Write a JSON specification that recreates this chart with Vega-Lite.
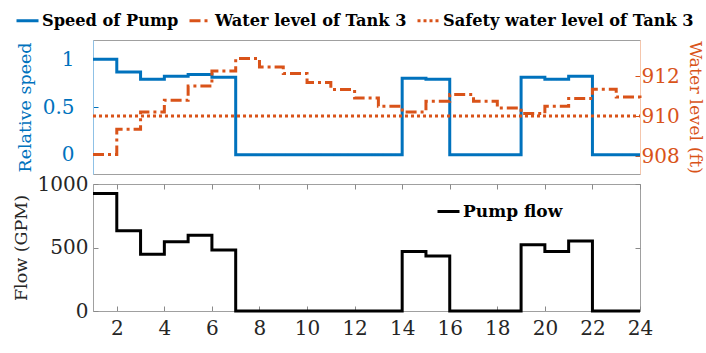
{
  "$schema": "https://vega.github.io/schema/vega-lite/v6.json",
  "padding": {"left": 11, "top": 7, "right": 1, "bottom": 3},
  "bounds": "flush",
  "spacing": 10,
  "config": {
    "font": "DejaVu Serif",
    "view": {"stroke": "#a0a0a0", "strokeWidth": 1},
    "axis": {"grid": false, "labelFont": "DejaVu Serif", "titleFont": "DejaVu Serif", "labelFontSize": 20, "titleFontSize": 17.5, "titleFontWeight": "normal", "labelFlush": false, "labelOverlap": false},
    "legend": {"labelFont": "DejaVu Serif", "labelFontSize": 16.2, "labelFontWeight": "bold", "labelColor": "#000000", "symbolType": "stroke", "symbolStrokeWidth": 3, "symbolSize": 484, "labelOffset": 2, "columnPadding": 4, "padding": 0, "title": null, "direction": "horizontal", "orient": "none", "labelLimit": 400}
  },
  "datasets": {
    "speed": [
      {"hour": 1, "value": 1.0, "series": "Speed of Pump"},
      {"hour": 2, "value": 0.865, "series": "Speed of Pump"},
      {"hour": 3, "value": 0.79, "series": "Speed of Pump"},
      {"hour": 4, "value": 0.82, "series": "Speed of Pump"},
      {"hour": 5, "value": 0.84, "series": "Speed of Pump"},
      {"hour": 6, "value": 0.81, "series": "Speed of Pump"},
      {"hour": 7, "value": 0, "series": "Speed of Pump"},
      {"hour": 8, "value": 0, "series": "Speed of Pump"},
      {"hour": 9, "value": 0, "series": "Speed of Pump"},
      {"hour": 10, "value": 0, "series": "Speed of Pump"},
      {"hour": 11, "value": 0, "series": "Speed of Pump"},
      {"hour": 12, "value": 0, "series": "Speed of Pump"},
      {"hour": 13, "value": 0, "series": "Speed of Pump"},
      {"hour": 14, "value": 0.80, "series": "Speed of Pump"},
      {"hour": 15, "value": 0.79, "series": "Speed of Pump"},
      {"hour": 16, "value": 0, "series": "Speed of Pump"},
      {"hour": 17, "value": 0, "series": "Speed of Pump"},
      {"hour": 18, "value": 0, "series": "Speed of Pump"},
      {"hour": 19, "value": 0.81, "series": "Speed of Pump"},
      {"hour": 20, "value": 0.79, "series": "Speed of Pump"},
      {"hour": 21, "value": 0.82, "series": "Speed of Pump"},
      {"hour": 22, "value": 0, "series": "Speed of Pump"},
      {"hour": 23, "value": 0, "series": "Speed of Pump"},
      {"hour": 24, "value": 0, "series": "Speed of Pump"}
    ],
    "level": [
      {"hour": 1, "value": 908.07, "series": "Water level of Tank 3"},
      {"hour": 2, "value": 909.34, "series": "Water level of Tank 3"},
      {"hour": 3, "value": 910.2, "series": "Water level of Tank 3"},
      {"hour": 4, "value": 910.79, "series": "Water level of Tank 3"},
      {"hour": 5, "value": 911.5, "series": "Water level of Tank 3"},
      {"hour": 6, "value": 912.25, "series": "Water level of Tank 3"},
      {"hour": 7, "value": 912.87, "series": "Water level of Tank 3"},
      {"hour": 8, "value": 912.45, "series": "Water level of Tank 3"},
      {"hour": 9, "value": 912.12, "series": "Water level of Tank 3"},
      {"hour": 10, "value": 911.67, "series": "Water level of Tank 3"},
      {"hour": 11, "value": 911.32, "series": "Water level of Tank 3"},
      {"hour": 12, "value": 910.9, "series": "Water level of Tank 3"},
      {"hour": 13, "value": 910.49, "series": "Water level of Tank 3"},
      {"hour": 14, "value": 910.2, "series": "Water level of Tank 3"},
      {"hour": 15, "value": 910.74, "series": "Water level of Tank 3"},
      {"hour": 16, "value": 911.07, "series": "Water level of Tank 3"},
      {"hour": 17, "value": 910.74, "series": "Water level of Tank 3"},
      {"hour": 18, "value": 910.4, "series": "Water level of Tank 3"},
      {"hour": 19, "value": 910.12, "series": "Water level of Tank 3"},
      {"hour": 20, "value": 910.49, "series": "Water level of Tank 3"},
      {"hour": 21, "value": 910.87, "series": "Water level of Tank 3"},
      {"hour": 22, "value": 911.34, "series": "Water level of Tank 3"},
      {"hour": 23, "value": 910.95, "series": "Water level of Tank 3"},
      {"hour": 24, "value": 910.7, "series": "Water level of Tank 3"},
      {"hour": 1, "value": 910, "series": "Safety water level of Tank 3"},
      {"hour": 24, "value": 910, "series": "Safety water level of Tank 3"}
    ],
    "flow": [
      {"hour": 1, "value": 926, "series": "Pump flow"},
      {"hour": 2, "value": 631, "series": "Pump flow"},
      {"hour": 3, "value": 447, "series": "Pump flow"},
      {"hour": 4, "value": 545, "series": "Pump flow"},
      {"hour": 5, "value": 597, "series": "Pump flow"},
      {"hour": 6, "value": 481, "series": "Pump flow"},
      {"hour": 7, "value": 0, "series": "Pump flow"},
      {"hour": 8, "value": 0, "series": "Pump flow"},
      {"hour": 9, "value": 0, "series": "Pump flow"},
      {"hour": 10, "value": 0, "series": "Pump flow"},
      {"hour": 11, "value": 0, "series": "Pump flow"},
      {"hour": 12, "value": 0, "series": "Pump flow"},
      {"hour": 13, "value": 0, "series": "Pump flow"},
      {"hour": 14, "value": 468, "series": "Pump flow"},
      {"hour": 15, "value": 434, "series": "Pump flow"},
      {"hour": 16, "value": 0, "series": "Pump flow"},
      {"hour": 17, "value": 0, "series": "Pump flow"},
      {"hour": 18, "value": 0, "series": "Pump flow"},
      {"hour": 19, "value": 521, "series": "Pump flow"},
      {"hour": 20, "value": 468, "series": "Pump flow"},
      {"hour": 21, "value": 552, "series": "Pump flow"},
      {"hour": 22, "value": 0, "series": "Pump flow"},
      {"hour": 23, "value": 0, "series": "Pump flow"},
      {"hour": 24, "value": 0, "series": "Pump flow"}
    ]
  },
  "resolve": {"scale": {"color": "independent", "strokeDash": "independent"}, "legend": {"color": "independent", "strokeDash": "independent"}},
  "vconcat": [
    {
      "width": 547,
      "height": 134,
      "layer": [
        {
          "data": {"name": "speed"},
          "mark": {"type": "line", "interpolate": "step-after", "strokeWidth": 3, "strokeCap": "butt"},
          "encoding": {
            "x": {"field": "hour", "type": "quantitative", "scale": {"domain": [1, 24], "nice": false, "zero": false}, "axis": null},
            "y": {"field": "value", "type": "quantitative", "scale": {"domain": [-0.2, 1.2], "nice": false, "zero": false},
              "axis": {"orient": "left", "title": "Relative speed", "values": [0, 0.5, 1], "format": "~g", "labelColor": "#0072BD", "titleColor": "#0072BD", "tickColor": "#0072BD", "domainColor": "#8fc1e6", "tickSize": -5, "labelPadding": 24, "titlePadding": 8}},
            "color": {"field": "series", "type": "nominal", "scale": {"domain": ["Speed of Pump", "Water level of Tank 3", "Safety water level of Tank 3"], "range": ["#0072BD", "#D95319", "#D95319"]},
              "legend": {"legendX": -78, "legendY": -32}},
            "strokeDash": {"field": "series", "type": "nominal", "scale": {"domain": ["Speed of Pump", "Water level of Tank 3", "Safety water level of Tank 3"], "range": [[1, 0], [11, 4, 3, 4], [3, 3]]},
              "legend": {"legendX": -78, "legendY": -32}}
          }
        },
        {
          "data": {"name": "level"},
          "mark": {"type": "line", "interpolate": "step-after", "strokeWidth": 3, "strokeCap": "butt"},
          "encoding": {
            "x": {"field": "hour", "type": "quantitative", "scale": {"domain": [1, 24], "nice": false, "zero": false}, "axis": null},
            "y": {"field": "value", "type": "quantitative", "scale": {"domain": [907.1, 913.8], "nice": false, "zero": false},
              "axis": {"orient": "right", "title": "Water level (ft)", "values": [908, 910, 912], "format": "d", "labelColor": "#D95319", "titleColor": "#D95319", "tickColor": "#D95319", "domainColor": "#f5c6ac", "tickSize": -5, "labelPadding": 6, "titlePadding": 6}},
            "color": {"field": "series", "type": "nominal", "scale": {"domain": ["Speed of Pump", "Water level of Tank 3", "Safety water level of Tank 3"], "range": ["#0072BD", "#D95319", "#D95319"]},
              "legend": {"legendX": -78, "legendY": -32}},
            "strokeDash": {"field": "series", "type": "nominal", "scale": {"domain": ["Speed of Pump", "Water level of Tank 3", "Safety water level of Tank 3"], "range": [[1, 0], [11, 4, 3, 4], [3, 3]]},
              "legend": {"legendX": -78, "legendY": -32}}
          }
        }
      ],
      "resolve": {"scale": {"y": "independent"}, "axis": {"y": "independent"}}
    },
    {
      "width": 547,
      "height": 127,
      "data": {"name": "flow"},
      "layer": [
        {
          "mark": {"type": "line", "interpolate": "step-after", "strokeWidth": 3, "strokeCap": "butt"},
          "encoding": {
            "x": {"field": "hour", "type": "quantitative", "scale": {"domain": [1, 24], "nice": false, "zero": false},
              "axis": {"orient": "bottom", "title": null, "values": [2, 4, 6, 8, 10, 12, 14, 16, 18, 20, 22, 24], "format": "d", "labelColor": "#262626", "tickColor": "#8a8a8a", "domainColor": "#a0a0a0", "tickSize": -5, "labelPadding": 12}},
            "y": {"field": "value", "type": "quantitative", "scale": {"domain": [0, 1000], "nice": false},
              "axis": {"orient": "left", "title": "Flow (GPM)", "values": [0, 500, 1000], "format": "d", "labelColor": "#262626", "titleColor": "#262626", "tickColor": "#8a8a8a", "domainColor": "#a0a0a0", "tickSize": -5, "labelPadding": 10, "titlePadding": 7}},
            "color": {"field": "series", "type": "nominal", "scale": {"domain": ["Pump flow"], "range": ["#000000"]},
              "legend": {"legendX": 343, "legendY": 15, "labelFontSize": 17}}
          }
        },
        {
          "mark": {"type": "line", "interpolate": "step-after", "opacity": 0},
          "encoding": {
            "x": {"field": "hour", "type": "quantitative", "axis": {"orient": "top", "title": null, "labels": false, "domain": false, "values": [2, 4, 6, 8, 10, 12, 14, 16, 18, 20, 22, 24], "tickColor": "#8a8a8a", "tickSize": -5}},
            "y": {"field": "value", "type": "quantitative", "axis": {"orient": "right", "title": null, "labels": false, "domain": false, "values": [0, 500, 1000], "tickColor": "#8a8a8a", "tickSize": -5}}
          }
        }
      ],
      "resolve": {"axis": {"x": "independent", "y": "independent"}}
    }
  ]
}
